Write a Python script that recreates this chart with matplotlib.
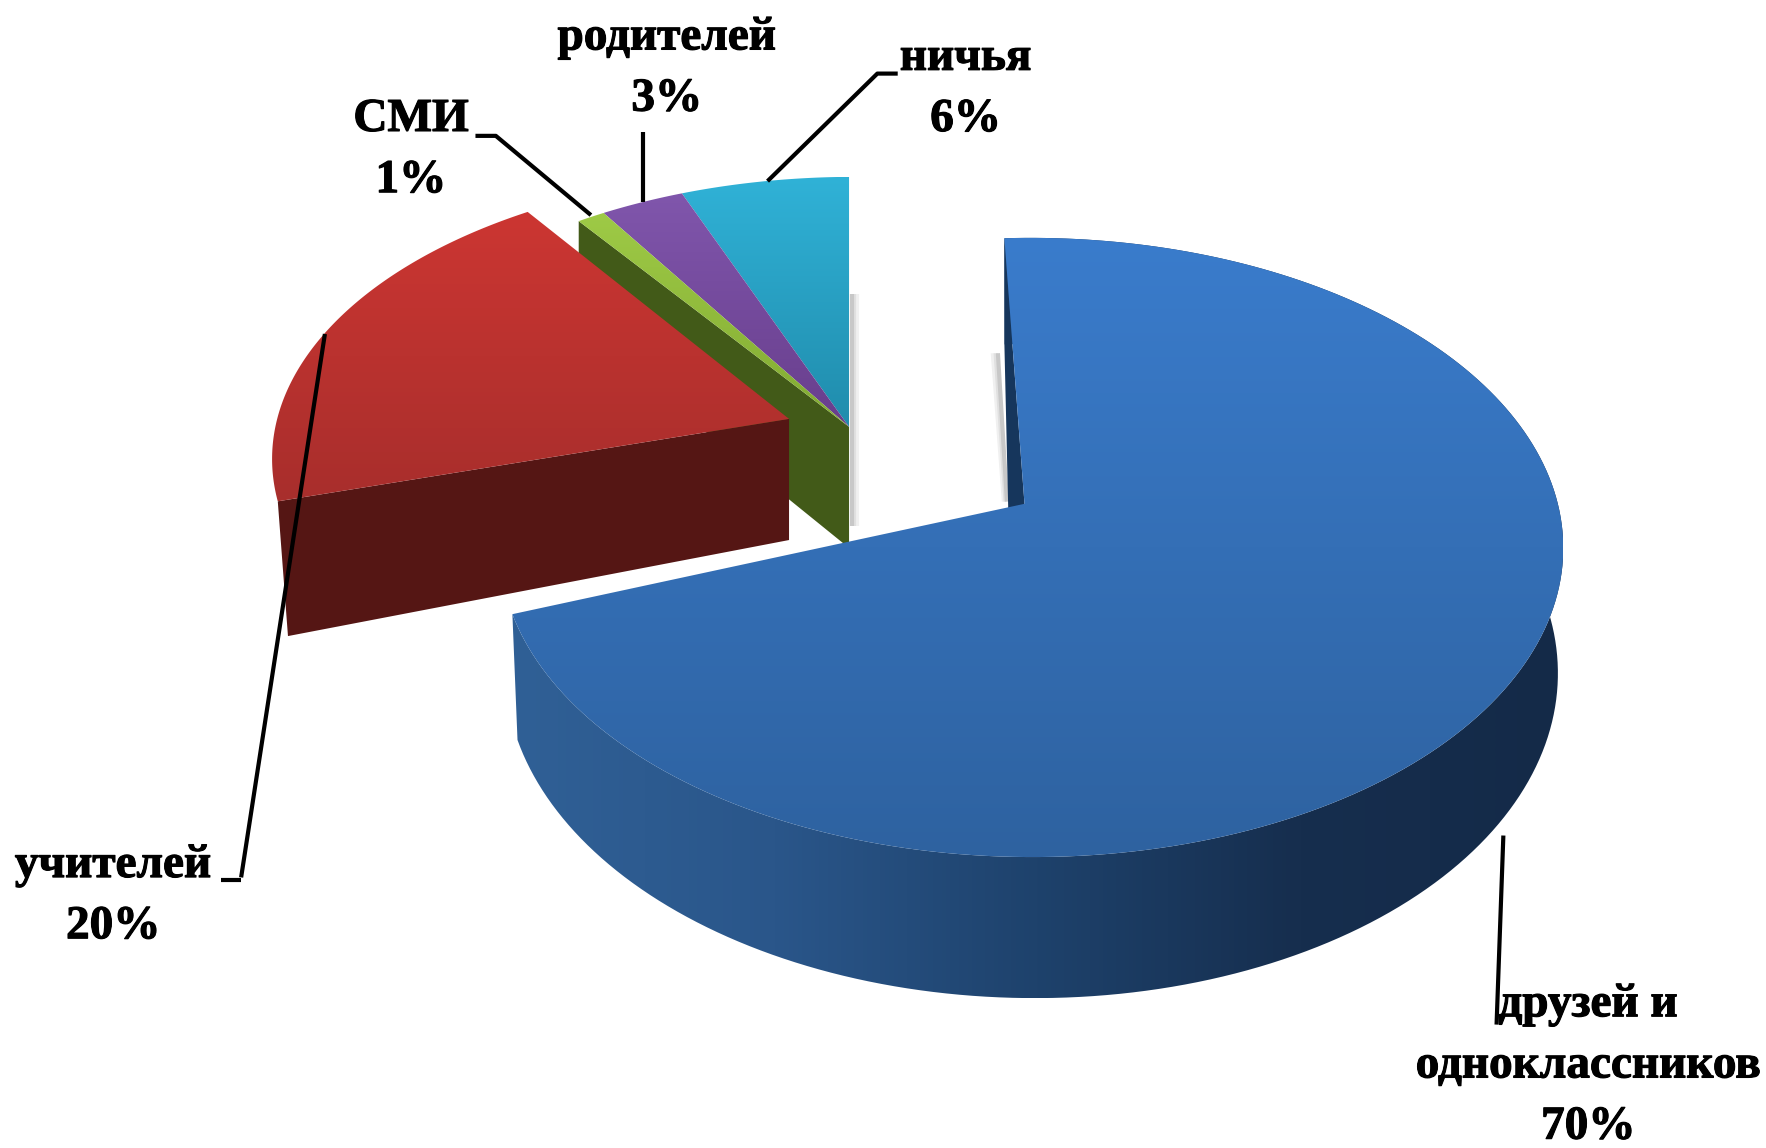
import numpy as np
import matplotlib
matplotlib.use('Agg')
import matplotlib.pyplot as plt
from matplotlib.patches import Polygon
import matplotlib.patheffects as pe

labels = ['друзей и\nодноклассников\n70%', 'учителей\n20%', 'СМИ\n1%', 'родителей\n3%', 'ничья\n6%']
shares = [70, 20, 1, 3, 6]

# рабочая система координат, потом масштабируется до 1766x1148
W, H = 1560, 1014
APEX_BLUE = (905, 445)
APEX_RED = (697, 370)
APEX_REST = (750, 377)
START = -2.5

A, B = 465, 268
K, M = 0.141, -0.013
DEPTH = 107


def project(theta, apex, sx=1.0, sy=1.0):
    t = np.radians(theta)
    x, y = np.sin(t), np.cos(t)
    w = 1 + K * y + M * x
    return apex[0] + sx * A * x / w, apex[1] - sy * B * y / w, w


def top_poly(t0, t1, apex, sx=1.0, sy=1.0):
    th = np.linspace(t0, t1, 200)
    xs, ys, _ = project(th, apex, sx, sy)
    return np.vstack([[apex], np.column_stack([xs, ys])])


def rim_poly(t0, t1, apex, sx=1.0, sy=1.0):
    th = np.linspace(t0, t1, 200)
    xs, ys, w = project(th, apex, sx, sy)
    top = np.column_stack([xs, ys])
    bot = np.column_stack([xs - 4 * (xs - apex[0]) / 400, ys + DEPTH / w])
    return np.vstack([top, bot[::-1]])


def radial_wall(theta, apex, sx=1.0, sy=1.0, rim_dx=0, rim_dy=0, apex_dx=0):
    x, y, w = project(theta, apex, sx, sy)
    return [apex, (x, y), (x + rim_dx, y + DEPTH / w + rim_dy), (apex[0] + apex_dx, apex[1] + DEPTH)]


def gradient_fill(ax, poly, c0, c1, horizontal=False, stops=None, z=1):
    poly = np.asarray(poly)
    x0, x1 = poly[:, 0].min(), poly[:, 0].max()
    y0, y1 = poly[:, 1].min(), poly[:, 1].max()
    cols = np.array(stops if stops else [c0, c1], dtype=float) / 255
    u = np.linspace(0, 1, 256)
    g = np.column_stack([np.interp(u, np.linspace(0, 1, len(cols)), cols[:, i]) for i in range(3)])
    img = g[None, :, :] if horizontal else g[:, None, :]
    im = ax.imshow(img, extent=(x0, x1, y1, y0), aspect='auto', zorder=z, interpolation='bilinear')
    patch = Polygon(poly, closed=True, fc='none', ec='none', transform=ax.transData)
    ax.add_patch(patch)
    im.set_clip_path(patch)


fig = plt.figure(figsize=(17.66, 11.48), dpi=100)
ax = fig.add_axes([0, 0, 1, 1])

edges = START + np.cumsum([0] + shares) * 3.6
blue = (edges[0], edges[1])

# красный и группа слегка повернуты относительно большого сектора
RED_TURN = 4
REST_TURN = 2.5
red = (edges[1] + RED_TURN, edges[2] + RED_TURN)
green = (edges[2] + REST_TURN, edges[3] + REST_TURN)
purple = (edges[3] + REST_TURN, edges[4] + REST_TURN)
cyan = (edges[4] + REST_TURN, edges[5] + REST_TURN)

RED_S = (0.985, 0.93)
REST_S = (0.98, 0.94)

# мягкие тени
for off, grey in [(7, '#f0f0f0'), (4.5, '#e0e0e0'), (2.5, '#c8c8c8')]:
    ax.plot([APEX_REST[0] + off, APEX_REST[0] + off], [260, 465], color=grey, lw=3, zorder=1, solid_capstyle='butt')
    ax.plot([APEX_BLUE[0] - 21 - off, APEX_BLUE[0] - 14 - off * 0.6], [312, 443], color=grey, lw=3, zorder=1, solid_capstyle='butt')

# группа из трёх маленьких секторов
ax.add_patch(Polygon(radial_wall(green[0], APEX_REST, *REST_S), closed=True, fc='#425a18', ec='none', zorder=2))
gradient_fill(ax, top_poly(*cyan, APEX_REST, *REST_S), (48, 178, 215), (32, 140, 172), z=3)
gradient_fill(ax, top_poly(*purple, APEX_REST, *REST_S), (128, 86, 172), (104, 62, 140), z=3)
gradient_fill(ax, top_poly(*green, APEX_REST, *REST_S), (158, 202, 70), (130, 170, 50), z=3)

# учителя
ax.add_patch(Polygon(radial_wall(red[0], APEX_RED, *RED_S, rim_dx=9, rim_dy=9), closed=True, fc='#551614', ec='none', zorder=4))
gradient_fill(ax, top_poly(*red, APEX_RED, *RED_S), (204, 54, 50), (168, 46, 44), z=5)

# большой сектор
gradient_fill(ax, rim_poly(*blue, APEX_BLUE), None, None, horizontal=True,
              stops=[(48, 96, 150), (42, 86, 138), (30, 66, 108), (22, 46, 78), (20, 42, 72)], z=6)
ax.add_patch(Polygon(radial_wall(blue[0], APEX_BLUE, apex_dx=-12), closed=True, fc='#16365c', ec='none', zorder=7))
gradient_fill(ax, top_poly(*blue, APEX_BLUE), (58, 124, 204), (46, 98, 160), z=8)

# выноски
leaders = [
    ([1328, 1322], [738, 905]),
    ([213, 287], [775, 295]),
    ([195, 213], [777, 777]),
    ([420, 438, 522], [120, 120, 190]),
    ([568, 568], [117, 178]),
    ([793, 775, 678], [65, 65, 160]),
]
for lx, ly in leaders:
    ax.plot(lx, ly, color='black', lw=3, zorder=9, solid_capstyle='butt')

# подписи
label_pos = [(1403, 942), (100, 792), (363, 133), (589, 61), (853, 79)]
for lab, (tx, ty) in zip(labels, label_pos):
    ax.text(tx, ty, lab, ha='center', va='center', family='Liberation Serif',
            weight='bold', fontsize=34, linespacing=1.6, color='black', zorder=10,
            path_effects=[pe.withStroke(linewidth=0.8, foreground='black')])

ax.set_xlim(0, W)
ax.set_ylim(H, 0)
ax.axis('off')
fig.savefig('out.png', dpi=100, facecolor='white')
